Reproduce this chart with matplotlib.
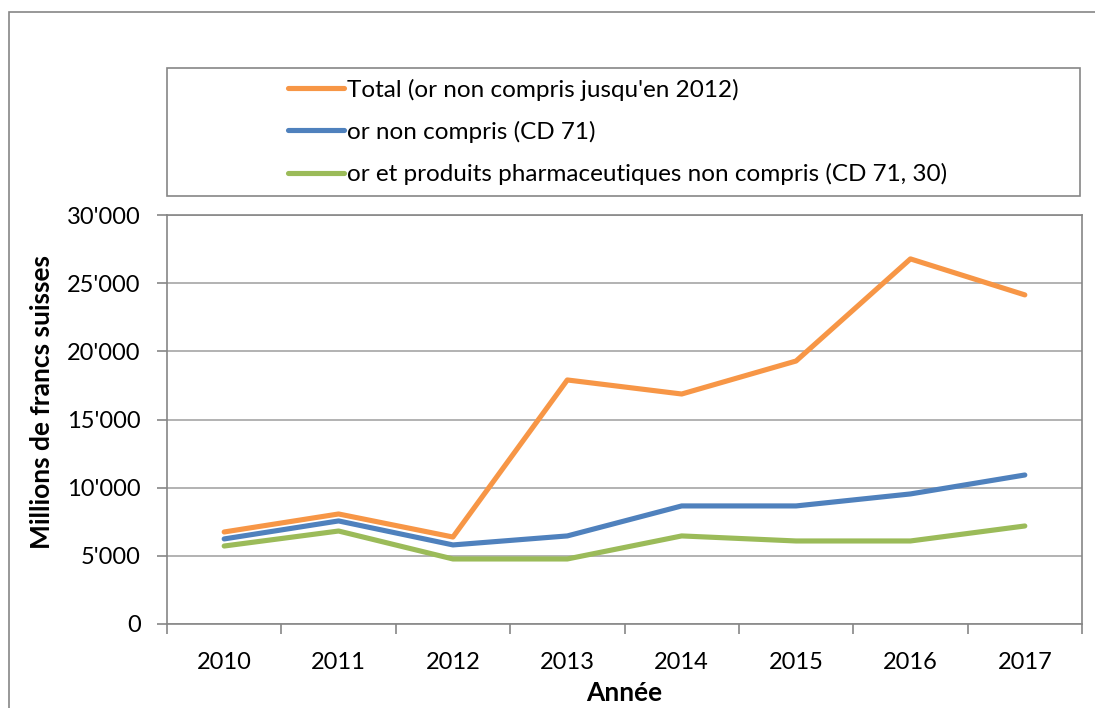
import numpy as np
from matplotlib import pyplot as plt
from matplotlib.patches import Rectangle
from matplotlib.ticker import FuncFormatter, FixedLocator

annees = ["2010", "2011", "2012", "2013", "2014", "2015", "2016", "2017"]
total = [6750, 8070, 6380, 17900, 16870, 19290, 26780, 24140]
sans_or = [6240, 7560, 5800, 6460, 8660, 8660, 9540, 10930]
sans_or_pharma = [5720, 6820, 4770, 4770, 6460, 6090, 6090, 7190]

noms = ["Total (or non compris jusqu'en 2012)",
        "or non compris (CD 71)",
        "or et produits pharmaceutiques non compris (CD 71, 30)"]
couleurs = ["#F79646", "#4F81BD", "#9BBB59"]

plt.rcParams['font.family'] = ['Lato', 'DejaVu Sans']
W, H = 1095, 708
fig = plt.figure(figsize=(W / 100, H / 100), dpi=100)

# zone du graphique (cadre gris, coupé à droite et en bas)
fig.patches.append(Rectangle((9 / W, -0.1), 1.2, 1.1 - 12 / H,
                             transform=fig.transFigure, fill=False,
                             edgecolor="#868686", linewidth=1.2))

ax = fig.add_axes([167 / W, 1 - 624 / H, (1082 - 167) / W, (624 - 215) / H])
x = np.arange(len(annees))
for serie, nom, c in zip([total, sans_or, sans_or_pharma], noms, couleurs):
    ax.plot(x, serie, color=c, linewidth=3.7, label=nom, solid_capstyle="round",
            solid_joinstyle="round")

ax.set_xlim(-0.5, len(annees) - 0.5)
ax.set_ylim(0, 30000)
ax.set_yticks(np.arange(0, 30001, 5000))
ax.yaxis.set_major_formatter(FuncFormatter(lambda v, p: f"{int(v):,}".replace(",", "'")))
ax.xaxis.set_major_locator(FixedLocator(np.arange(-0.5, len(annees), 1)))
ax.xaxis.set_minor_locator(FixedLocator(x))
ax.set_xticklabels([])
ax.set_xticklabels(annees, minor=True)
ax.tick_params(axis="x", which="major", length=7, color="#868686", width=1.2)
ax.tick_params(axis="x", which="minor", length=0, pad=20, labelsize=17)
ax.tick_params(axis="y", length=7, color="#868686", width=1.2, labelsize=17, pad=12)
ax.grid(axis="y", color="#A6A6A6", linewidth=1.2)
ax.set_axisbelow(True)
for s in ax.spines.values():
    s.set_color("#868686")
    s.set_linewidth(1.2)

ax.set_ylabel("Millions de francs suisses", fontsize=19, fontweight="bold")
ax.yaxis.set_label_coords(-0.124, 0.543)
ax.set_xlabel("Année", fontsize=19, fontweight="bold", labelpad=6)

# cadre de la légende
fig.patches.append(Rectangle((167 / W, 1 - 196 / H), (1080 - 167) / W, (196 - 68) / H,
                             transform=fig.transFigure, fill=False,
                             edgecolor="#868686", linewidth=1.2))
fig.legend(loc="upper left", bbox_to_anchor=(266 / W, 1 - 57 / H), frameon=False,
           fontsize=17.5, handlelength=2.3, handletextpad=0.12, labelspacing=0.82)

plt.savefig("out.png", dpi=100)
